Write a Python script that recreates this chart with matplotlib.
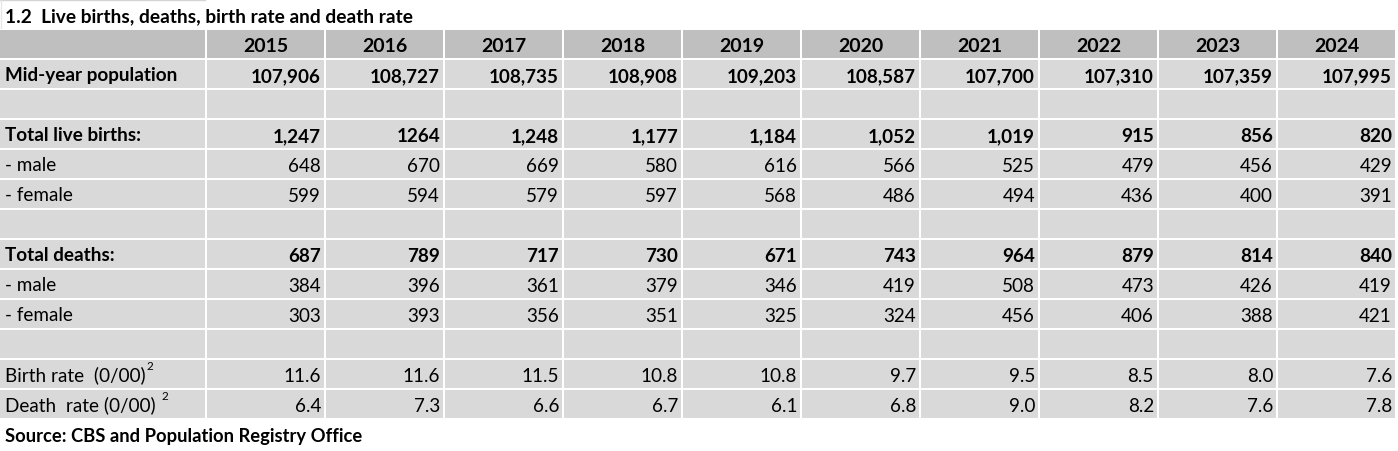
import matplotlib.pyplot as plt
from matplotlib.patches import Rectangle

title = "1.2  Live births, deaths, birth rate and death rate"
source = "Source: CBS and Population Registry Office"
years = ["2015", "2016", "2017", "2018", "2019", "2020", "2021", "2022", "2023", "2024"]

row_labels = ["Mid-year population", "", "Total live births:", "- male", "- female", "",
              "Total deaths:", "- male", "- female", "", "Birth rate  (0/00)", "Death  rate (0/00) "]
row_bold = [True, False, True, False, False, False, True, False, False, False, False, False]
row_sup = [False] * 10 + [True, True]

mid_year_pop = ["107,906", "108,727", "108,735", "108,908", "109,203", "108,587", "107,700", "107,310", "107,359", "107,995"]
births_total = ["1,247", "1264", "1,248", "1,177", "1,184", "1,052", "1,019", "915", "856", "820"]
births_male = ["648", "670", "669", "580", "616", "566", "525", "479", "456", "429"]
births_female = ["599", "594", "579", "597", "568", "486", "494", "436", "400", "391"]
deaths_total = ["687", "789", "717", "730", "671", "743", "964", "879", "814", "840"]
deaths_male = ["384", "396", "361", "379", "346", "419", "508", "473", "426", "419"]
deaths_female = ["303", "393", "356", "351", "325", "324", "456", "406", "388", "421"]
birth_rate = ["11.6", "11.6", "11.5", "10.8", "10.8", "9.7", "9.5", "8.5", "8.0", "7.6"]
death_rate = ["6.4", "7.3", "6.6", "6.7", "6.1", "6.8", "9.0", "8.2", "7.6", "7.8"]
blank = [""] * 10

rows = [mid_year_pop, blank, births_total, births_male, births_female, blank,
        deaths_total, deaths_male, deaths_female, blank, birth_rate, death_rate]

W, H = 1398, 452
font = "Lato"
fs = 13.6

# layout in pixels
lab_w = 205
col_x0 = 207
col_step = 119
col_w = 117
head_top = 31
row_top0 = 61
row_step = 30
row_h = 28

header_col = "#bfbfbf"
cell_col = "#d9d9d9"

fig = plt.figure(figsize=(W / 100, H / 100), dpi=100)
ax = fig.add_axes([0, 0, 1, 1])
ax.set_xlim(0, W)
ax.set_ylim(H, 0)
ax.axis("off")

# title cell border (faint)
ax.plot([0, lab_w], [0.5, 0.5], color="#d4d4d4", lw=1)
ax.plot([1, 1], [0, 29], color="#e6e6e6", lw=1)
ax.text(5, 17, title, fontsize=fs + 0.2, fontweight="bold", family=font, va="center", ha="left")

# header row
ax.add_patch(Rectangle((0, head_top), lab_w, row_h, color=header_col, lw=0))
for j, yr in enumerate(years):
    x = col_x0 + j * col_step
    ax.add_patch(Rectangle((x, head_top), col_w, row_h, color=header_col, lw=0))
    ax.text(x + col_w / 2, head_top + row_h / 2 + 1, yr, fontsize=fs + 0.4, fontweight="bold",
            family=font, ha="center", va="center")

fig.canvas.draw()
rend = fig.canvas.get_renderer()

for i, (lab, vals) in enumerate(zip(row_labels, rows)):
    y = row_top0 + i * row_step
    w = "bold" if row_bold[i] else "normal"
    ax.add_patch(Rectangle((0, y), lab_w, row_h, color=cell_col, lw=0))
    t = ax.text(5, y + row_h / 2 + 0.5, lab, fontsize=fs, fontweight=w, family=font,
                ha="left", va="center")
    if row_sup[i]:
        bb = t.get_window_extent(rend)
        xr = ax.transData.inverted().transform((bb.x1, bb.y1))[0]
        ax.text(xr + 1, y + 6, "2", fontsize=8.5, family=font, ha="left", va="center")
    for j, v in enumerate(vals):
        x = col_x0 + j * col_step
        ax.add_patch(Rectangle((x, y), col_w, row_h, color=cell_col, lw=0))
        ax.text(x + col_w - 3, y + row_h / 2 + 1.5, v, fontsize=fs, fontweight=w,
                family=font, ha="right", va="center")

ax.text(5, 437, source, fontsize=fs - 0.4, fontweight="bold", family=font, va="center", ha="left")

fig.savefig("out.png", dpi=100)
